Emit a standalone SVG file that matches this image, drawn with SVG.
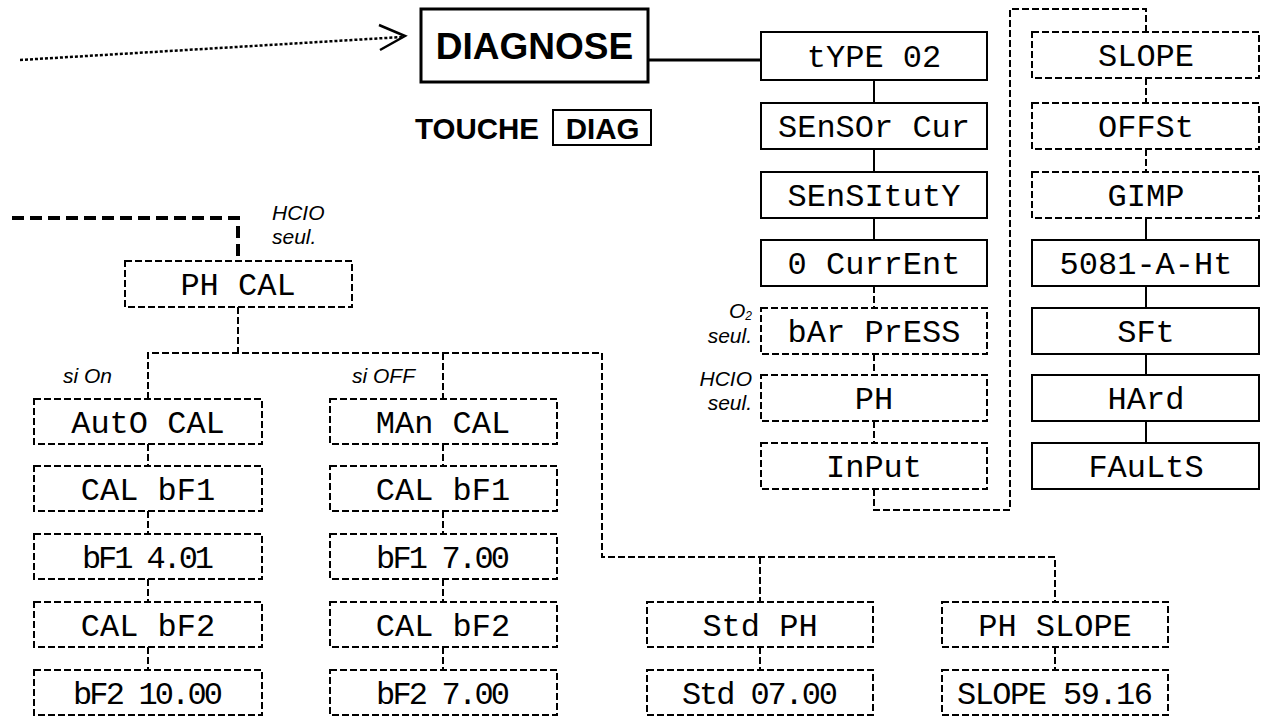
<svg xmlns="http://www.w3.org/2000/svg" width="1265" height="716" viewBox="0 0 1265 716">
<style>
.box{fill:#fff;stroke:#000;stroke-width:2}
.dbox{fill:#fff;stroke:#000;stroke-width:2;stroke-dasharray:7 3}
.lcd{font-family:"Liberation Mono","DejaVu Sans Mono",monospace;font-size:32px;text-anchor:middle;fill:#000}
.lbl{font-family:"Liberation Sans",Arial,sans-serif;font-style:italic;font-size:21px;fill:#000}
.bold{font-family:"Liberation Sans",Arial,sans-serif;font-weight:bold;fill:#000}
.c{fill:none;stroke:#000;stroke-width:2}
.dc{fill:none;stroke:#000;stroke-width:2;stroke-dasharray:7 3}
</style>
<rect width="1265" height="716" fill="#fff"/>
<g id="connectors">
  <path d="M20,60 L402,37" fill="none" stroke="#000" stroke-width="2.5" stroke-dasharray="3 2"/>
  <path d="M379,25 L405,36 L380,50" fill="none" stroke="#000" stroke-width="2.5"/>
  <path d="M648,60 H761" fill="none" stroke="#000" stroke-width="3"/>
  <path class="c" d="M874,80 V103 M874,149 V172 M874,218 V240"/>
  <path class="dc" d="M874,286 V308 M874,354 V375 M874,421 V443"/>
  <path class="dc" d="M874,489 V510 H1010 V9 H1146 V32"/>
  <path class="dc" d="M1146,78 V103 M1146,149 V172"/>
  <path class="c" d="M1146,218 V240 M1146,286 V308 M1146,354 V375 M1146,421 V443"/>
  <path d="M12,218 H238 V261" fill="none" stroke="#000" stroke-width="4" stroke-dasharray="12 6"/>
  <path class="dc" d="M238,307 V353 M148,399 V353 H602 V557 H1055 V602 M443,353 V399 M760,557 V602"/>
  <path class="dc" d="M148,444 V466 M148,511 V534 M148,579 V602 M148,647 V670"/>
  <path class="dc" d="M443,444 V466 M443,511 V534 M443,579 V602 M443,647 V670"/>
  <path class="dc" d="M760,647 V670 M1055,647 V670"/>
</g>
<g id="diagnose">
  <rect x="421" y="9" width="227" height="73" fill="#fff" stroke="#000" stroke-width="3"/>
  <text class="bold" x="534.5" y="59" font-size="37" text-anchor="middle">DIAGNOSE</text>
</g>
<g id="touche">
  <text class="bold" x="415" y="139" font-size="29.5">TOUCHE</text>
  <rect x="553" y="110" width="98" height="35" fill="#fff" stroke="#000" stroke-width="2"/>
  <text class="bold" x="602.5" y="139" font-size="29.5" text-anchor="middle">DIAG</text>
</g>
<g id="type02"><rect class="box" x="761" y="32" width="226" height="48"/><text class="lcd" x="874" y="67">tYPE 02</text></g>
<g id="sensorcur"><rect class="box" x="761" y="103" width="226" height="46"/><text class="lcd" x="874" y="137">SEnSOr Cur</text></g>
<g id="sensituty"><rect class="box" x="761" y="172" width="226" height="46"/><text class="lcd" x="874" y="206">SEnSItutY</text></g>
<g id="ocurrent"><rect class="box" x="761" y="240" width="226" height="46"/><text class="lcd" x="874" y="274">0 CurrEnt</text></g>
<g id="barpress"><rect class="dbox" x="761" y="308" width="226" height="46"/><text class="lcd" x="874" y="342">bAr PrESS</text></g>
<g id="ph"><rect class="dbox" x="761" y="375" width="226" height="46"/><text class="lcd" x="874" y="409">PH</text></g>
<g id="input"><rect class="dbox" x="761" y="443" width="226" height="46"/><text class="lcd" x="874" y="477">InPut</text></g>
<g id="o2label"><text class="lbl" x="752" y="318" text-anchor="end">O<tspan font-size="12" dy="2">2</tspan></text><text class="lbl" x="752" y="343" text-anchor="end">seul.</text></g>
<g id="hcio2label"><text class="lbl" x="752" y="386" text-anchor="end">HCIO</text><text class="lbl" x="752" y="410" text-anchor="end">seul.</text></g>
<g id="slope"><rect class="dbox" x="1032" y="32" width="227" height="46"/><text class="lcd" x="1146" y="66">SLOPE</text></g>
<g id="offst"><rect class="dbox" x="1032" y="103" width="227" height="46"/><text class="lcd" x="1146" y="137">OFFSt</text></g>
<g id="gimp"><rect class="dbox" x="1032" y="172" width="227" height="46"/><text class="lcd" x="1146" y="206">GIMP</text></g>
<g id="a5081"><rect class="box" x="1032" y="240" width="227" height="46"/><text class="lcd" x="1146" y="274">5081-A-Ht</text></g>
<g id="sft"><rect class="box" x="1032" y="308" width="227" height="46"/><text class="lcd" x="1146" y="342">SFt</text></g>
<g id="hard"><rect class="box" x="1032" y="375" width="227" height="46"/><text class="lcd" x="1146" y="409">HArd</text></g>
<g id="faults"><rect class="box" x="1032" y="443" width="227" height="46"/><text class="lcd" x="1146" y="477">FAuLtS</text></g>
<g id="hciolabel"><text class="lbl" x="272" y="220">HCIO</text><text class="lbl" x="272" y="244">seul.</text></g>
<g id="phcal"><rect class="dbox" x="125" y="261" width="227" height="46"/><text class="lcd" x="238" y="295">PH CAL</text></g>
<g id="sion"><text class="lbl" x="63" y="383">si On</text></g>
<g id="sioff"><text class="lbl" x="352" y="383">si OFF</text></g>
<g id="autocal"><rect class="dbox" x="34" y="399" width="228" height="45"/><text class="lcd" x="148" y="433">AutO CAL</text></g>
<g id="calbf1a"><rect class="dbox" x="34" y="466" width="228" height="45"/><text class="lcd" x="148" y="500">CAL bF1</text></g>
<g id="bf1401"><rect class="dbox" x="34" y="534" width="228" height="45"/><text class="lcd" x="148" y="568" textLength="132" lengthAdjust="spacing">bF1 4.01</text></g>
<g id="calbf2a"><rect class="dbox" x="34" y="602" width="228" height="45"/><text class="lcd" x="148" y="636">CAL bF2</text></g>
<g id="bf21000"><rect class="dbox" x="34" y="670" width="228" height="45"/><text class="lcd" x="148" y="704" textLength="150" lengthAdjust="spacing">bF2 10.00</text></g>
<g id="mancal"><rect class="dbox" x="330" y="399" width="227" height="45"/><text class="lcd" x="443" y="433">MAn CAL</text></g>
<g id="calbf1b"><rect class="dbox" x="330" y="466" width="227" height="45"/><text class="lcd" x="443" y="500">CAL bF1</text></g>
<g id="bf1700"><rect class="dbox" x="330" y="534" width="227" height="45"/><text class="lcd" x="443" y="568" textLength="134" lengthAdjust="spacing">bF1 7.00</text></g>
<g id="calbf2b"><rect class="dbox" x="330" y="602" width="227" height="45"/><text class="lcd" x="443" y="636">CAL bF2</text></g>
<g id="bf2700"><rect class="dbox" x="330" y="670" width="227" height="45"/><text class="lcd" x="443" y="704" textLength="134" lengthAdjust="spacing">bF2 7.00</text></g>
<g id="stdph"><rect class="dbox" x="647" y="602" width="226" height="45"/><text class="lcd" x="760" y="636">Std PH</text></g>
<g id="std0700"><rect class="dbox" x="647" y="670" width="226" height="45"/><text class="lcd" x="760" y="704" textLength="156" lengthAdjust="spacing">Std 07.00</text></g>
<g id="phslope"><rect class="dbox" x="942" y="602" width="226" height="45"/><text class="lcd" x="1055" y="636">PH SLOPE</text></g>
<g id="slope5916"><rect class="dbox" x="942" y="670" width="226" height="45"/><text class="lcd" x="1055" y="704" textLength="196" lengthAdjust="spacing">SLOPE 59.16</text></g>
</svg>
